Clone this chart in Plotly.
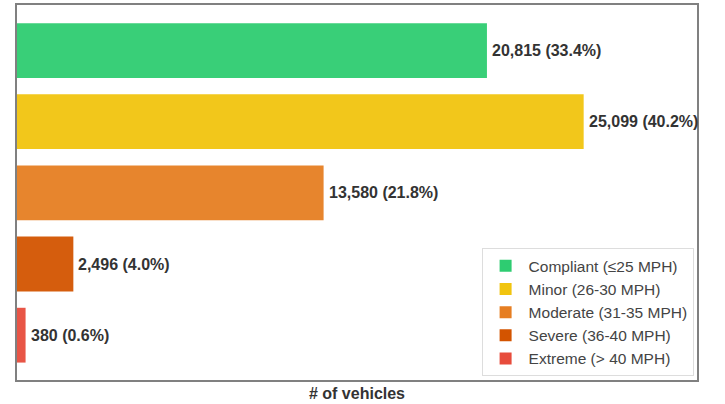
"""Speeding severity breakdown as a horizontal bar chart."""

import plotly.graph_objects as go

# ─── Data ─────────────────────────────────────────────────────────────────────
CATEGORIES = [
    "Compliant (≤25 MPH)",
    "Minor (26-30 MPH)",
    "Moderate (31-35 MPH)",
    "Severe (36-40 MPH)",
    "Extreme (> 40 MPH)",
]
COUNTS = [20815, 25099, 13580, 2496, 380]
PERCENTS = [33.4, 40.2, 21.8, 4.0, 0.6]

COLORS = ["#2ECC71", "#F1C40F", "#E67E22", "#D35400", "#E74C3C"]

FONT = "Liberation Sans, Arial"

fig = go.Figure()

for cat, count, color in zip(CATEGORIES, COUNTS, COLORS):
    fig.add_trace(
        go.Bar(
            x=[count],
            y=[cat],
            orientation="h",
            name=cat,
            marker=dict(color=color, opacity=0.95, line=dict(width=0)),
            width=0.77,
        )
    )

# value labels to the right of each bar
for cat, count, pct in zip(CATEGORIES, COUNTS, PERCENTS):
    fig.add_annotation(
        x=count,
        y=cat,
        text=f"<b>{count:,} ({pct:.1f}%)</b>",
        showarrow=False,
        xanchor="left",
        xshift=3,
        font=dict(family=FONT, size=16, color="#333333"),
    )

fig.update_layout(
    width=725,
    height=404,
    margin=dict(l=17, r=28, t=3, b=24),
    barmode="overlay",
    plot_bgcolor="white",
    paper_bgcolor="white",
    font=dict(family=FONT, size=12, color="#444444"),
    legend=dict(
        x=0.995,
        y=0.01,
        xanchor="right",
        yanchor="bottom",
        traceorder="normal",
        bgcolor="white",
        bordercolor="#dddddd",
        borderwidth=1,
        font=dict(size=15.5, color="#444444"),
        itemwidth=36,
        tracegroupgap=0,
    ),
)

fig.update_xaxes(
    range=[0, max(COUNTS) * 1.2],
    showticklabels=False,
    ticks="",
    showgrid=False,
    zeroline=False,
    showline=True,
    mirror=True,
    linecolor="#808080",
    linewidth=2,
    title=dict(
        text="<b># of vehicles</b>",
        standoff=7,
        font=dict(size=16, color="#333333"),
    ),
)
fig.update_yaxes(
    categoryorder="array",
    categoryarray=CATEGORIES,
    autorange=False,
    range=[4.63, -0.64],
    showticklabels=False,
    ticks="",
    showgrid=False,
    zeroline=False,
    showline=True,
    mirror=True,
    linecolor="#808080",
    linewidth=2,
)

fig.write_html(
    "out.html",
    config={"displayModeBar": False},
    post_script="document.body.style.margin='0';",
)
